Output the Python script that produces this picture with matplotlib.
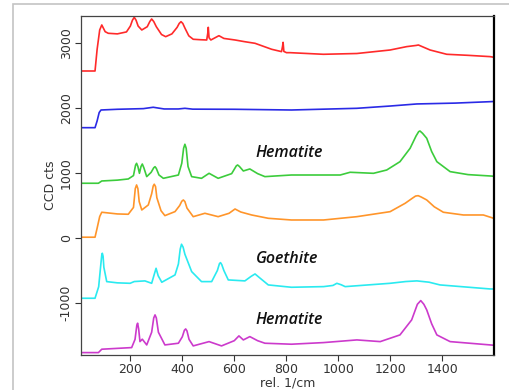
import matplotlib
matplotlib.use("Agg")
import matplotlib.pyplot as plt
from matplotlib.patches import Rectangle

# Raman spectra (rel. 1/cm, CCD cts)
red_x = [12, 64, 72, 82, 90, 103, 115, 150, 185, 200, 208, 215, 222, 230, 244, 265, 275, 282, 290, 300, 320, 336, 360, 380, 388, 395, 402, 410, 425, 442, 470, 494, 498, 500, 503, 510, 541, 560, 603, 640, 680, 744, 782, 786, 788, 791, 801, 815, 943, 1072, 1200, 1264, 1300, 1309, 1320, 1354, 1418, 1500, 1585, 1600]
red_y = [2569, 2569, 2900, 3200, 3277, 3174, 3149, 3140, 3170, 3260, 3350, 3395, 3350, 3260, 3200, 3250, 3330, 3369, 3330, 3250, 3130, 3097, 3140, 3240, 3300, 3328, 3300, 3230, 3110, 3057, 3050, 3046, 3150, 3241, 3080, 3046, 3112, 3070, 3046, 3020, 2995, 2903, 2867, 2950, 3010, 2870, 2851, 2851, 2826, 2838, 2892, 2944, 2962, 2969, 2950, 2892, 2826, 2810, 2790, 2780]

blue_x = [12, 64, 72, 80, 87, 150, 250, 288, 330, 385, 410, 440, 600, 820, 1072, 1200, 1303, 1450, 1585, 1600]
blue_y = [1697, 1697, 1800, 1930, 1969, 1980, 1990, 2011, 1985, 1985, 1995, 1982, 1980, 1969, 1995, 2030, 2062, 2075, 2097, 2100]

green_x = [12, 77, 90, 150, 192, 212, 220, 224, 229, 235, 241, 246, 252, 263, 280, 290, 295, 300, 310, 327, 385, 398, 405, 410, 415, 422, 436, 474, 503, 538, 590, 608, 613, 620, 635, 660, 690, 718, 820, 1008, 1046, 1136, 1187, 1238, 1277, 1300, 1310, 1315, 1325, 1341, 1360, 1380, 1431, 1500, 1585, 1600]
green_y = [842, 842, 877, 890, 908, 960, 1120, 1149, 1100, 995, 1100, 1138, 1080, 944, 1010, 1080, 1097, 1070, 970, 918, 969, 1150, 1380, 1442, 1380, 1100, 944, 918, 995, 918, 990, 1110, 1123, 1100, 1031, 1062, 990, 944, 969, 969, 1011, 995, 1046, 1174, 1380, 1570, 1636, 1646, 1610, 1534, 1330, 1174, 1021, 975, 954, 950]

orange_x = [12, 64, 72, 82, 90, 150, 192, 212, 219, 224, 229, 234, 244, 269, 282, 288, 292, 297, 302, 318, 333, 372, 390, 398, 404, 410, 418, 442, 487, 538, 580, 603, 625, 667, 731, 820, 944, 1072, 1200, 1258, 1285, 1298, 1308, 1320, 1341, 1370, 1405, 1482, 1559, 1591, 1600]
orange_y = [12, 12, 150, 330, 396, 370, 365, 470, 760, 816, 760, 560, 431, 508, 680, 800, 827, 790, 620, 420, 344, 406, 500, 565, 585, 560, 460, 328, 380, 328, 380, 446, 400, 354, 303, 277, 277, 328, 405, 534, 610, 645, 651, 630, 585, 480, 396, 354, 354, 313, 300]

cyan_x = [12, 64, 78, 86, 90, 92, 95, 98, 109, 150, 199, 215, 256, 282, 292, 299, 307, 321, 372, 385, 392, 397, 403, 410, 436, 474, 513, 535, 543, 547, 552, 560, 577, 641, 665, 680, 700, 731, 820, 944, 980, 995, 1012, 1027, 1200, 1260, 1303, 1350, 1392, 1585, 1600]
cyan_y = [-927, -927, -750, -420, -260, -235, -280, -450, -671, -690, -697, -670, -660, -697, -560, -466, -580, -681, -568, -400, -170, -96, -140, -250, -517, -671, -671, -500, -395, -379, -410, -500, -645, -660, -590, -553, -620, -722, -758, -748, -730, -697, -720, -748, -697, -670, -660, -680, -722, -784, -785]

magenta_x = [12, 77, 90, 205, 218, 225, 228, 232, 237, 246, 263, 282, 290, 295, 300, 308, 333, 385, 400, 408, 413, 418, 426, 442, 503, 551, 600, 618, 635, 660, 690, 718, 820, 944, 1072, 1162, 1238, 1283, 1305, 1318, 1330, 1341, 1360, 1380, 1431, 1585, 1600]
magenta_y = [-1763, -1763, -1711, -1686, -1560, -1340, -1311, -1400, -1594, -1557, -1645, -1450, -1230, -1183, -1230, -1450, -1645, -1619, -1520, -1420, -1399, -1430, -1560, -1660, -1594, -1660, -1580, -1506, -1568, -1517, -1580, -1619, -1634, -1609, -1568, -1594, -1491, -1260, -1020, -963, -1020, -1106, -1320, -1491, -1594, -1645, -1650]

x_ticks = [200, 400, 600, 800, 1000, 1200, 1400]
y_ticks = [-1000, 0, 1000, 2000, 3000]

fig = plt.figure(figsize=(5.09, 3.90), dpi=100)
ax = fig.add_axes([81 / 509, 35 / 390, 413 / 509, 339 / 390])

# grey frame round the whole picture
fig.patches.append(Rectangle((13 / 509, -0.1), 2, (386 / 390) + 0.1, transform=fig.transFigure,
                             fill=False, edgecolor='#c4c4c4', linewidth=1.2))

ax.plot(red_x, red_y, color='#ff2a2a', lw=1.2)
ax.plot(blue_x, blue_y, color='#2a2ae6', lw=1.2)
ax.plot(green_x, green_y, color='#3ccc3c', lw=1.2)
ax.plot(orange_x, orange_y, color='#ff952a', lw=1.2)
ax.plot(cyan_x, cyan_y, color='#2aeaf0', lw=1.2)
ax.plot(magenta_x, magenta_y, color='#cc3acc', lw=1.2)

label_font = dict(fontsize=11.5, fontweight='semibold', fontstyle='italic', family='Open Sans', color='#111111')
ax.text(683, 1308, 'Hematite', ha='left', va='center', **label_font)
ax.text(683, -322, 'Goethite', ha='left', va='center', **label_font)
ax.text(683, -1260, 'Hematite', ha='left', va='center', **label_font)

ax.set_xlim(10, 1600)
ax.set_ylim(-1800, 3415)
ax.set_xticks(x_ticks)
ax.set_yticks(y_ticks)
ax.set_yticklabels([str(v) for v in y_ticks], rotation=90, va='center')
ax.tick_params(length=4, width=0.8, labelsize=9, colors='#333333', pad=2)
ax.set_xlabel('rel. 1/cm', fontsize=9, color='#333333', labelpad=0)
ax.set_ylabel('CCD cts', fontsize=9, color='#333333', labelpad=2)
for side in ['left', 'bottom', 'top']:
    ax.spines[side].set_color('#444444')
    ax.spines[side].set_linewidth(0.9)
ax.spines['right'].set_linewidth(1.6)

fig.savefig('out.png', dpi=100)
